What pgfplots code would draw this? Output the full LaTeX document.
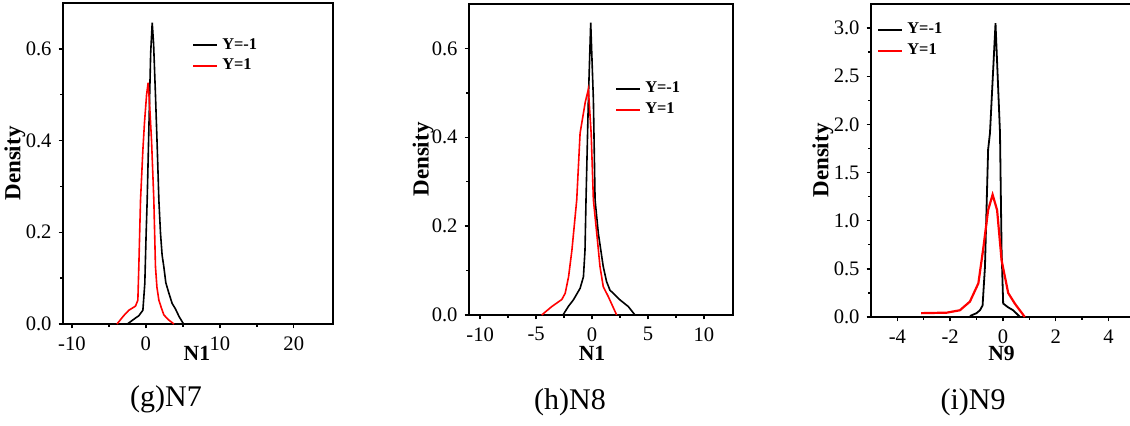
\documentclass[border=0pt]{standalone}
\usepackage{pgfplots}
\pgfplotsset{compat=1.18}
\usepackage{fontspec}
\setmainfont{Liberation Serif}

\pgfplotstableread{
x y
-2.5 0
-1.4 0.013
-0.95 0.018
-0.4 0.03
-0.14 0.089
0.04 0.198
0.18 0.27
0.4 0.42
0.65 0.59
0.86 0.657
1.05 0.61
1.3 0.50
1.55 0.38
1.76 0.27
1.98 0.198
2.2 0.15
2.43 0.125
2.7 0.09
3.1 0.068
3.55 0.045
4.0 0.033
4.5 0.016
5.1 0
}\gblack
\pgfplotstableread{
x y
-3.9 0
-3.0 0.018
-2.3 0.03
-1.4 0.039
-1.08 0.052
-0.95 0.125
-0.72 0.27
-0.4 0.38
-0.18 0.44
0.1 0.50
0.31 0.526
0.5 0.48
0.77 0.40
1.08 0.27
1.3 0.125
1.5 0.08
1.76 0.052
2.1 0.035
2.43 0.02
3.0 0.01
3.8 0
}\gred
\pgfplotstableread{
x y
-2.6 0
-2.1 0.02
-1.67 0.034
-1.07 0.06
-0.77 0.086
-0.63 0.146
-0.54 0.259
-0.33 0.484
-0.12 0.658
0.12 0.484
0.27 0.259
0.56 0.184
1.0 0.109
1.3 0.075
1.6 0.056
2.5 0.034
3.24 0.019
3.84 0
}\hblack
\pgfplotstableread{
x y
-4.5 0
-3.6 0.019
-2.7 0.035
-2.4 0.049
-2.1 0.086
-1.8 0.146
-1.37 0.259
-1.07 0.409
-0.6 0.48
-0.33 0.508
-0.08 0.409
0.12 0.259
0.42 0.184
0.71 0.109
1.0 0.064
1.46 0.041
2.2 0
}\hred
\pgfplotstableread{
x y
-1.25 0.01
-1.0 0.04
-0.87 0.07
-0.77 0.12
-0.68 0.52
-0.56 1.74
-0.49 1.91
-0.28 3.05
-0.11 1.91
-0.08 1.3
-0.05 0.70
0.01 0.14
0.2 0.10
0.39 0.07
0.65 0
}\iblack
\pgfplotstableread{
x y
-3.1 0.04
-2.13 0.045
-1.63 0.07
-1.25 0.16
-0.93 0.35
-0.75 0.70
-0.56 1.11
-0.39 1.27
-0.22 1.11
-0.05 0.59
0.2 0.25
0.45 0.14
0.83 0
}\ired

\pgfplotsset{
  panel/.style={
    scale only axis,
    axis line style={line width=1pt},
    tick style={black, line width=0.7pt},
    tick align=outside,
    xtick pos=bottom, ytick pos=left,
    major tick length=2.2pt,
    minor tick length=1.4pt,
    minor x tick num=1,
    minor y tick num=1,
    /pgf/number format/assume math mode=true,
    tick label style={font=\fontsize{10.3}{11}\selectfont},
    xticklabel style={yshift=-0.5pt},
    label style={font=\fontsize{11.5}{12}\selectfont\bfseries},
    ylabel={Density},
    yticklabel style={/pgf/number format/.cd, fixed, fixed zerofill, precision=1},
    legend style={draw=none, fill=none, font=\fontsize{8.2}{9}\selectfont\bfseries,
      anchor=north west, row sep=-0.5pt, inner sep=1pt},
    legend cell align=left,
    legend image code/.code={\draw[#1, line width=1pt] (0pt,0pt) -- (12pt,0pt);},
  },
}

\begin{document}
\begin{tikzpicture}[x=0.5pt,y=0.5pt]
\useasboundingbox (0,0) rectangle (1130,425);
\clip (0,0) rectangle (1130,425);

% Panel (g)
\begin{axis}[panel,
  at={(31.5pt,50.5pt)}, anchor=south west,
  width=135pt, height=160.5pt,
  xmin=-11.2, xmax=25.3, ymin=0, ymax=0.70,
  xtick={-10,0,10,20}, ytick={0,0.2,0.4,0.6},
  xlabel={N1},
  xlabel style={at={(axis description cs:0.496,-0.09)}, anchor=center, font=\fontsize{10.8}{12}\selectfont\bfseries},
  ylabel style={at={(axis description cs:-0.178,0.5)}, anchor=center},
  legend style={at={(axis description cs:0.47,0.91)}},
]
\addplot[black, line width=0.8pt] table[x=x,y=y] {\gblack};
\addlegendentry{Y=-1}
\addplot[red, line width=0.8pt] table[x=x,y=y] {\gred};
\addlegendentry{Y=1}
\end{axis}

% Panel (h)
\begin{axis}[panel,
  at={(234.5pt,55pt)}, anchor=south west,
  width=132pt, height=155.5pt,
  xmin=-11, xmax=12.6, ymin=0, ymax=0.70,
  xtick={-10,-5,0,5,10}, ytick={0,0.2,0.4,0.6},
  xlabel={N1},
  xlabel style={at={(axis description cs:0.466,-0.122)}, anchor=center, font=\fontsize{10.8}{12}\selectfont\bfseries},
  ylabel style={at={(axis description cs:-0.174,0.5)}, anchor=center},
  legend style={at={(axis description cs:0.545,0.77)}},
]
\addplot[black, line width=0.8pt] table[x=x,y=y] {\hblack};
\addlegendentry{Y=-1}
\addplot[red, line width=0.8pt] table[x=x,y=y] {\hred};
\addlegendentry{Y=1}
\end{axis}

% Panel (i)
\begin{axis}[panel,
  at={(435.5pt,54pt)}, anchor=south west,
  width=131.9pt, height=156.5pt,
  xmin=-5, xmax=5, ymin=0, ymax=3.25,
  xtick={-4,-2,0,2,4}, ytick={0,0.5,1,1.5,2,2.5,3},
  xlabel={N9},
  xlabel style={at={(axis description cs:0.495,-0.118)}, anchor=center, font=\fontsize{10.8}{12}\selectfont\bfseries},
  ylabel style={at={(axis description cs:-0.182,0.5)}, anchor=center},
  legend style={at={(axis description cs:0.015,0.96)}},
]
\addplot[black, line width=0.9pt] table[x=x,y=y] {\iblack};
\addlegendentry{Y=-1}
\addplot[red, line width=1.1pt] table[x=x,y=y] {\ired};
\addlegendentry{Y=1}
\end{axis}

\node[font=\fontsize{15}{17}\selectfont] at (166,26) {(g)N7};
\node[font=\fontsize{15}{17}\selectfont] at (570,23) {(h)N8};
\node[font=\fontsize{15}{17}\selectfont] at (973,23) {(i)N9};
\end{tikzpicture}
\end{document}
